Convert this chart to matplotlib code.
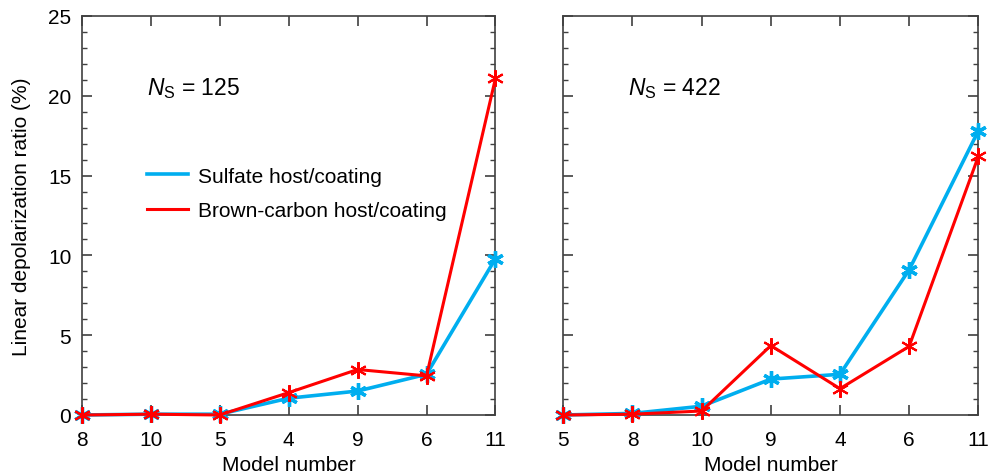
import matplotlib
matplotlib.use("Agg")
import matplotlib.pyplot as plt
from matplotlib.ticker import MultipleLocator

plt.rcParams['font.family'] = ['Liberation Sans', 'DejaVu Sans']
plt.rcParams['mathtext.fontset'] = 'custom'
plt.rcParams['mathtext.rm'] = 'Liberation Sans'
plt.rcParams['mathtext.it'] = 'Liberation Sans:italic'

# left panel (N_S = 125)
models_left = ["8", "10", "5", "4", "9", "6", "11"]
sulfate_left = [0.0, 0.05, 0.05, 1.05, 1.5, 2.55, 9.8]
brown_left = [0.0, 0.05, 0.0, 1.4, 2.85, 2.45, 21.1]

# right panel (N_S = 422)
models_right = ["5", "8", "10", "9", "4", "6", "11"]
sulfate_right = [0.0, 0.1, 0.55, 2.25, 2.55, 9.1, 17.8]
brown_right = [0.0, 0.05, 0.25, 4.35, 1.65, 4.3, 16.2]

BLUE = "#00aeef"
RED = "#ff0000"
AXCOL = "#404040"
FS = 15


def style_axes(ax, models, show_ylabels):
    ax.set_xlim(0, len(models) - 1)
    ax.set_ylim(0, 25)
    ax.set_xticks(range(len(models)))
    ax.set_xticklabels(models)
    ax.yaxis.set_major_locator(MultipleLocator(5))
    ax.yaxis.set_minor_locator(MultipleLocator(1))
    ax.tick_params(which="both", direction="in", top=True, right=True,
                   colors=AXCOL, labelcolor="black", labelsize=FS)
    ax.tick_params(which="major", length=7, width=1.2)
    ax.tick_params(which="minor", length=3.6, width=1.0)
    ax.tick_params(axis="x", pad=11)
    ax.tick_params(axis="y", pad=7.5)
    for sp in ax.spines.values():
        sp.set_color(AXCOL)
        sp.set_linewidth(1.2)
    if not show_ylabels:
        ax.tick_params(axis="y", labelleft=False)
    ax.set_xlabel("Model number", fontsize=FS, labelpad=4)


def draw(ax, models, sulfate, brown):
    x = range(len(models))
    ax.plot(x, sulfate, color=BLUE, lw=2.6, marker=(6, 2, 0), ms=12,
            mew=2.4, clip_on=False, zorder=3)
    ax.plot(x, brown, color=RED, lw=2.2, marker=(6, 2, 0), ms=12,
            mew=1.5, clip_on=False, zorder=4)


fig = plt.figure(figsize=(9.89, 4.77), dpi=100)
ax1 = fig.add_axes([0.0826, 0.1279, 0.4184, 0.8365])
ax2 = fig.add_axes([0.5696, 0.1279, 0.4196, 0.8365])

draw(ax1, models_left, sulfate_left, brown_left)
draw(ax2, models_right, sulfate_right, brown_right)
style_axes(ax1, models_left, True)
style_axes(ax2, models_right, False)

ax1.set_ylabel("Linear depolarization ratio (%)", fontsize=FS, labelpad=12)

ax1.text(0.157, 0.82, r"$\mathit{N}_{\mathrm{S}}$ = 125", transform=ax1.transAxes,
         fontsize=16.5, va="center", ha="left")
ax2.text(0.157, 0.82, r"$\mathit{N}_{\mathrm{S}}$ = 422", transform=ax2.transAxes,
         fontsize=16.5, va="center", ha="left")

handles = [plt.Line2D([], [], color=BLUE, lw=2.6),
           plt.Line2D([], [], color=RED, lw=2.2)]
ax1.legend(handles, ["Sulfate host/coating", "Brown-carbon host/coating"],
           loc="center left", bbox_to_anchor=(0.138, 0.555), frameon=False,
           fontsize=FS, handlelength=1.95, handletextpad=0.5, labelspacing=0.75,
           borderaxespad=0)

fig.savefig("out.png", dpi=100)
